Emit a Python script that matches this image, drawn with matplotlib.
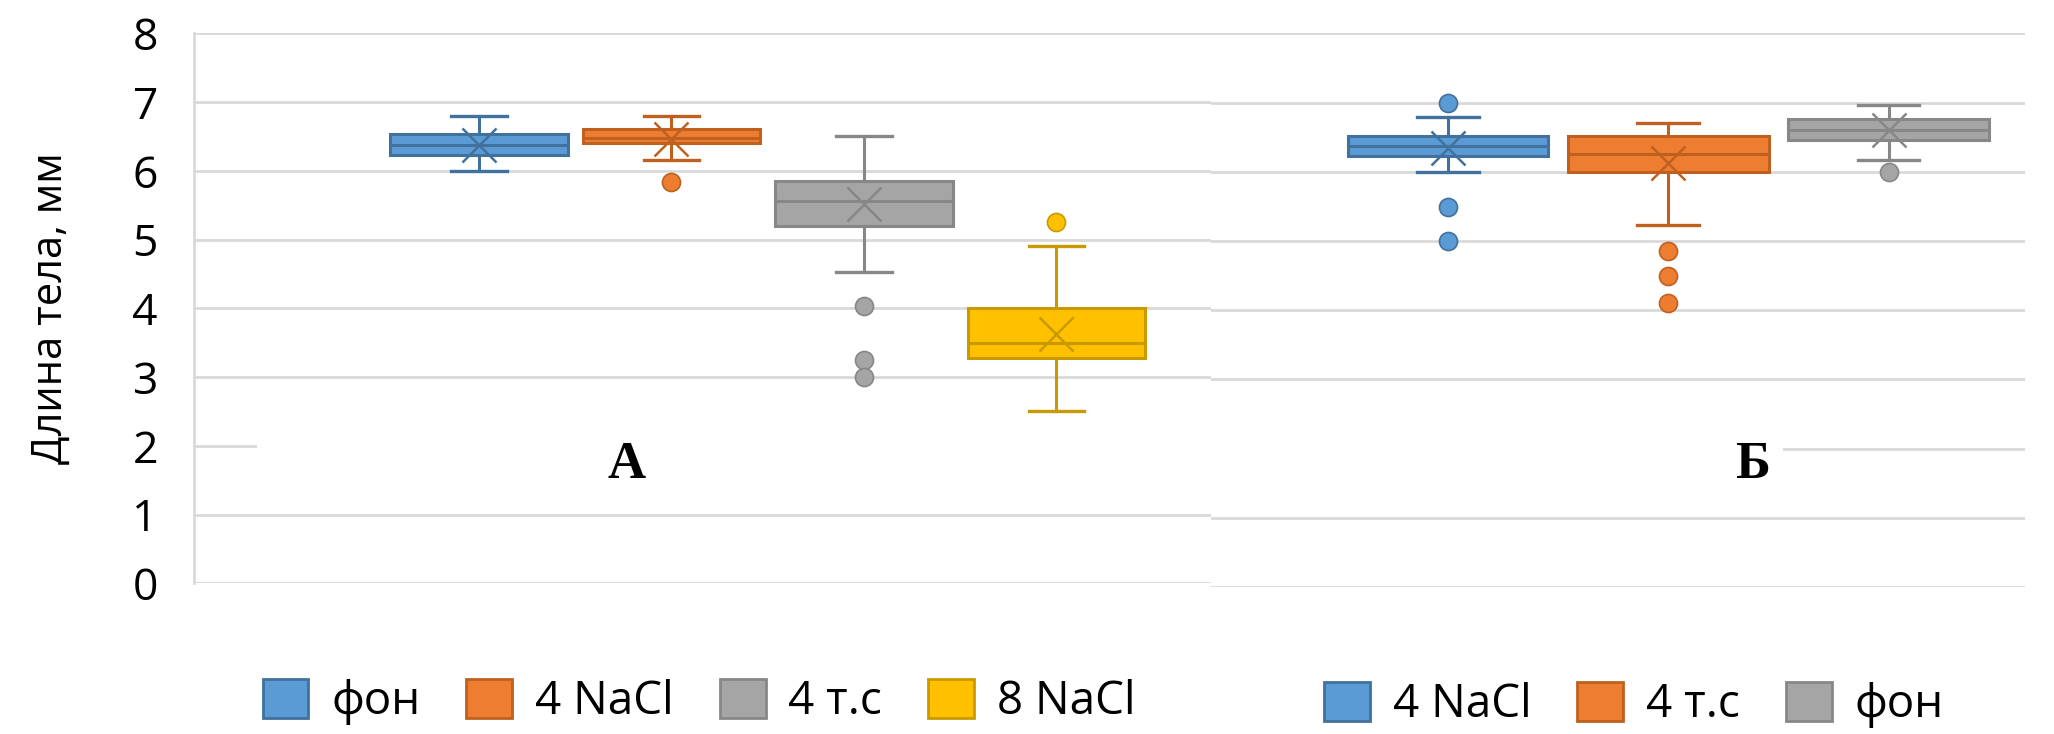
import matplotlib
matplotlib.use("Agg")
import matplotlib.pyplot as plt
from matplotlib.patches import Patch, Rectangle

# panel A
left_labels = ['фон', '4 NaCl', '4 т.с', '8 NaCl']
left_whislo = [6.0, 6.15, 4.53, 2.5]
left_q1 = [6.23, 6.40, 5.20, 3.27]
left_med = [6.38, 6.47, 5.56, 3.50]
left_q3 = [6.53, 6.61, 5.85, 4.0]
left_whishi = [6.8, 6.8, 6.5, 4.9]
left_mean = [6.37, 6.46, 5.51, 3.63]
left_fliers = [[], [5.83], [4.03, 3.25, 3.0], [5.26]]

# panel Б
right_labels = ['4 NaCl', '4 т.с', 'фон']
right_whislo = [6.0, 5.23, 6.17]
right_q1 = [6.22, 6.0, 6.46]
right_med = [6.37, 6.26, 6.61]
right_q3 = [6.52, 6.51, 6.76]
right_whishi = [6.79, 6.71, 6.96]
right_mean = [6.34, 6.12, 6.61]
right_fliers = [[7.0, 5.49, 5.0], [4.86, 4.5, 4.1], [5.99]]

fills = ['#5B9BD5', '#ED7D31', '#A5A5A5', '#FFC000']
edges = ['#41719C', '#C0601F', '#878787', '#C99A00']
grid_c = '#D9D9D9'

plt.rcParams['font.family'] = ['Open Sans', 'DejaVu Sans']

W, H = 2054, 734
fig = plt.figure(figsize=(W / 100, H / 100), dpi=100)

def px_axes(x0, x1, ytop, ybot):
    return fig.add_axes([x0 / W, 1 - ybot / H, (x1 - x0) / W, (ybot - ytop) / H])

ax1 = px_axes(194, 1211, 33.3, 583.3)
ax2 = px_axes(1211, 2025, 33.3, 587)


def draw(ax, whislo, q1, med, q3, whishi, mean, fliers, width, capw):
    for i in range(len(med)):
        st = [dict(whislo=whislo[i], q1=q1[i], med=med[i], q3=q3[i],
                   whishi=whishi[i], mean=mean[i], fliers=fliers[i])]
        fc, ec = fills[i], edges[i]
        ax.bxp(st, positions=[i + 1], widths=width, capwidths=capw,
               patch_artist=True, showmeans=True,
               boxprops=dict(facecolor=fc, edgecolor=ec, linewidth=2.2),
               medianprops=dict(color=ec, linewidth=2.2),
               whiskerprops=dict(color=ec, linewidth=2.2),
               capprops=dict(color=ec, linewidth=2.4),
               meanprops=dict(marker='x', markersize=25, markeredgecolor=ec,
                              markeredgewidth=1.8),
               flierprops=dict(marker='o', markersize=13, markerfacecolor=fc,
                               markeredgecolor=ec, markeredgewidth=1.2))


def style(ax):
    ax.set_ylim(0, 8)
    ax.set_yticks(range(9))
    ax.set_xticks([])
    ax.grid(axis='y', color=grid_c, linewidth=2)
    ax.set_axisbelow(True)
    for s in ax.spines.values():
        s.set_visible(False)
    ax.tick_params(axis='y', length=0, labelsize=32, pad=26)


draw(ax1, left_whislo, left_q1, left_med, left_q3, left_whishi, left_mean,
     left_fliers, 0.92, 0.286)
style(ax1)
ax1.set_xlim(-0.4805, 4.8026)
ax1.spines['left'].set_visible(True)
ax1.spines['left'].set_color(grid_c)
ax1.spines['left'].set_linewidth(2)
ax1.set_ylabel('Длина тела, мм', fontsize=30)
ax1.yaxis.set_label_coords(-0.12, 0.5)
ax1.add_patch(Rectangle((0.062, 1.9), 1.0, 0.2, transform=ax1.get_yaxis_transform(),
                        facecolor='white', edgecolor='none', zorder=0.9))

draw(ax2, right_whislo, right_q1, right_med, right_q3, right_whishi, right_mean,
     right_fliers, 0.91, 0.28)
style(ax2)
ax2.set_xlim(-0.0758, 3.619)
ax2.tick_params(axis='y', labelleft=False)
ax2.add_patch(Rectangle((0, 1.9), 0.703, 0.2, transform=ax2.get_yaxis_transform(),
                        facecolor='white', edgecolor='none', zorder=0.9))

fig.text(627 / W, 1 - 465 / H, 'А', fontsize=38, fontweight='bold',
         family='Liberation Serif', ha='center', va='center')
fig.text(1753 / W, 1 - 465 / H, 'Б', fontsize=38, fontweight='bold',
         family='Liberation Serif', ha='center', va='center')

def legend(labels, cx, cy):
    handles = [Patch(facecolor=fills[i], edgecolor=edges[i], linewidth=2, label=l)
               for i, l in enumerate(labels)]
    fig.legend(handles=handles, loc='center', bbox_to_anchor=(cx / W, 1 - cy / H),
               ncol=len(labels), frameon=False, fontsize=33, handlelength=1.0,
               handleheight=0.93, handletextpad=0.5, columnspacing=1.0,
               borderaxespad=0)

legend(left_labels, 699, 702)
legend(right_labels, 1634, 705)

fig.savefig('out.png', dpi=100)
